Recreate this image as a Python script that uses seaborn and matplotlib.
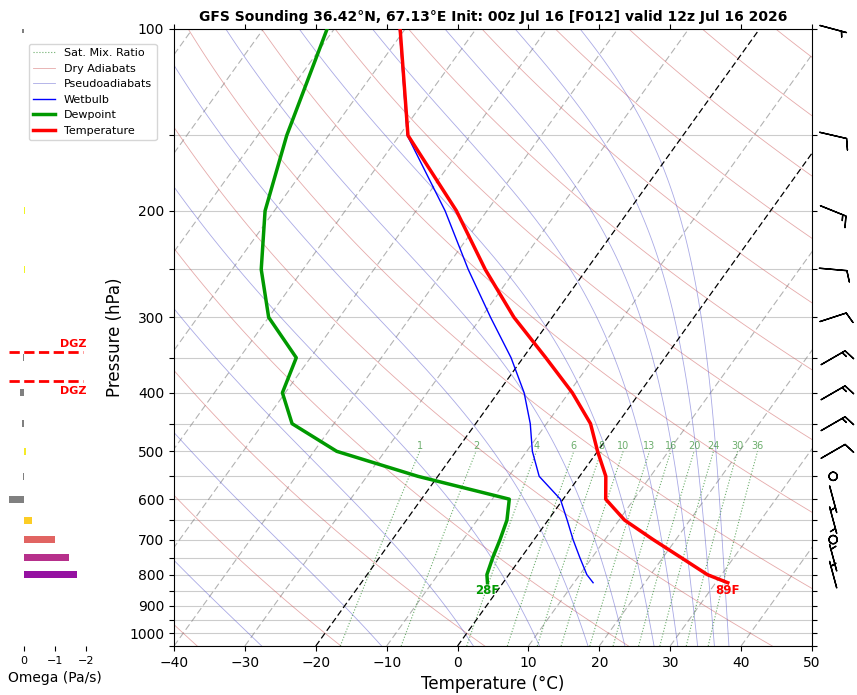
import numpy as np
import matplotlib
matplotlib.use("Agg")
import matplotlib.pyplot as plt
from matplotlib.lines import Line2D
import seaborn as sns

# Sounding profile (hPa, degC)
pres = [825, 800, 750, 700, 650, 600, 550, 500, 450, 400, 350, 300, 250, 200, 150, 100]
temp = [31.7, 28.0, 22.6, 16.8, 10.8, 6.0, 3.7, 0.0, -3.8, -9.5, -16.8, -25.4, -34.3, -44.3, -58.8, -70.7]
dewp = [-2.2, -3.1, -4.0, -4.8, -5.8, -7.6, -22.8, -36.8, -45.9, -50.4, -52.0, -60.0, -65.9, -71.3, -75.9, -81.0]
wetb = [12.7, 11.0, 8.3, 5.5, 2.7, -0.4, -5.7, -9.2, -12.3, -16.3, -21.7, -28.7, -36.7, -45.9, -58.9, -70.8]

# Vertical velocity (Pa/s)
omega_p = [800, 750, 700, 650, 600, 550, 500, 450, 400, 350, 300, 250, 200, 150, 100]
omega = [-1.71, -1.45, -1.0, -0.26, 0.48, 0.02, -0.08, 0.05, 0.13, 0.02, 0.0, -0.03, -0.03, 0.0, 0.05]

# Winds: direction (deg, from) and speed (kt)
wind_p = [800, 750, 700, 650, 600, 550, 500, 450, 400, 350, 300, 250, 200, 150, 100]
wind_dir = [345, 345, 0, 165, 165, 0, 60, 60, 60, 60, 72, 95, 112, 103, 105]
wind_spd = [5, 5, 0, 5, 5, 0, 10, 15, 15, 15, 10, 10, 15, 10, 5]

# Background line sets
mix_ratios = [1, 2, 4, 6, 8, 10, 13, 16, 20, 24, 30, 36]   # g/kg
dry_t0 = np.arange(-40, 260, 20)                           # degC at 1000 hPa
moist_thetae = np.arange(243.15, 450, 20)                  # K

title = "GFS Sounding 36.42°N, 67.13°E Init: 00z Jul 16 [F012] valid 12z Jul 16 2026"

P_BOT, P_TOP = 1050, 100
SKEW = 61.3  # degC of x shift per decade of pressure


def skew(t, p):
    return np.asarray(t, float) + SKEW * np.log10(P_BOT / np.asarray(p, float))


def sat_vp(tc):
    return 6.112 * np.exp(17.67 * tc / (tc + 243.5))


def theta_e_sat(tk, p):
    es = np.minimum(sat_vp(tk - 273.15), 0.5 * p)
    r = 0.622 * es / (p - es)
    return (tk * (1000.0 / p) ** (0.2854 * (1 - 0.28 * r))
            * np.exp((3.376 / tk - 0.00254) * r * 1000 * (1 + 0.81 * r)))


def pseudoadiabat(the, p):
    lo = np.full_like(p, 150.0)
    hi = np.full_like(p, 345.0)
    for _ in range(60):
        mid = 0.5 * (lo + hi)
        big = theta_e_sat(mid, p) > the
        hi = np.where(big, mid, hi)
        lo = np.where(big, lo, mid)
    return 0.5 * (lo + hi) - 273.15


def dewpoint_from_w(w, p):
    e = w * p / (622.0 + w)
    a = np.log(e / 6.112)
    return 243.5 * a / (17.67 - a)


fig = plt.figure(figsize=(8.57, 6.95), dpi=100)
left, bottom, width, height = 174 / 857, 1 - 646 / 695, 638 / 857, 617 / 695
ax = fig.add_axes([left, bottom, width, height])
ax.set_yscale('log')

p_bg = np.logspace(np.log10(P_BOT), np.log10(P_TOP), 120)
dry_col, moist_col, mix_col = '#cc5555', '#5555cc', '#2e8b2e'

# isotherms
for t in range(-160, 60, 10):
    if t in (0, -20):
        ax.plot(skew(np.full_like(p_bg, t), p_bg), p_bg, color='k', ls=(0, (5, 2.5)), lw=0.9, zorder=2)
    else:
        ax.plot(skew(np.full_like(p_bg, t), p_bg), p_bg, color='gray', ls=(0, (6, 3)), lw=0.8, alpha=0.6, zorder=1)

# dry adiabats
for t0 in dry_t0:
    t = (t0 + 273.15) * (p_bg / 1000.0) ** 0.2857 - 273.15
    ax.plot(skew(t, p_bg), p_bg, color=dry_col, lw=0.6, alpha=0.5, zorder=1)

# pseudoadiabats
for the in moist_thetae:
    t = pseudoadiabat(the, p_bg)
    ax.plot(skew(t, p_bg), p_bg, color=moist_col, lw=0.6, alpha=0.5, zorder=1)

# saturation mixing ratio lines
p_mr = np.logspace(np.log10(P_BOT), np.log10(500), 40)
for w in mix_ratios:
    td = dewpoint_from_w(w, p_mr)
    ax.plot(skew(td, p_mr), p_mr, color=mix_col, ls=':', lw=0.8, alpha=0.7, zorder=1)
    ax.text(skew(td[-1], 500), 500, str(w), color=mix_col, alpha=0.7, fontsize=7,
            ha='center', va='bottom')

# profiles
sns.lineplot(x=skew(wetb, pres), y=pres, sort=False, estimator=None, color='blue', lw=1, ax=ax, zorder=4)
sns.lineplot(x=skew(dewp, pres), y=pres, sort=False, estimator=None, color='#009900', lw=2.5, ax=ax, zorder=5)
sns.lineplot(x=skew(temp, pres), y=pres, sort=False, estimator=None, color='red', lw=2.5, ax=ax, zorder=5)

t_f = round(temp[0] * 9 / 5 + 32)
td_f = round(dewp[0] * 9 / 5 + 32)
ax.annotate(f"{td_f}F", (skew(dewp[0], pres[0]), pres[0]), xytext=(0, -1), textcoords='offset points',
            ha='center', va='top', color='#009900', fontsize=8.5, fontweight='bold', zorder=6)
ax.annotate(f"{t_f}F", (skew(temp[0], pres[0]), pres[0]), xytext=(0, -1), textcoords='offset points',
            ha='center', va='top', color='red', fontsize=8.5, fontweight='bold', zorder=6)

yt = np.arange(100, 1051, 50)
ax.set_yticks(yt)
ax.set_yticklabels([str(v) if v % 100 == 0 else '' for v in yt])
ax.yaxis.set_minor_locator(matplotlib.ticker.NullLocator())
ax.set_ylim(P_BOT, P_TOP)
ax.set_xlim(-40, 50)
ax.set_xticks(range(-40, 51, 10))
ax.tick_params(top=True, right=True)
ax.grid(axis='y', color='#cccccc', lw=0.8)
ax.set_axisbelow(True)
ax.set_xlabel("Temperature (°C)", fontsize=12)
ax.set_ylabel("Pressure (hPa)", fontsize=12)
ax.set_title(title, fontsize=10, fontweight='bold')

# omega panel
ax_om = fig.add_axes([8.5 / 857, bottom, 93 / 857, height])
cmap = plt.get_cmap('plasma_r')
om_colors = ['#808080' if w >= 0 else cmap(-w / 2.5) for w in omega]
ax_om.barh(omega_p, omega, height=[0.027 * p for p in omega_p], color=om_colors)
ax_om.set_yscale('log')
ax_om.set_ylim(P_BOT, P_TOP)
ax_om.set_xlim(0.5, -2.5)
ax_om.set_xticks([0, -1, -2])
ax_om.tick_params(axis='x', labelsize=8)
ax_om.set_yticks([])
ax_om.yaxis.set_minor_locator(matplotlib.ticker.NullLocator())
for s in ax_om.spines.values():
    s.set_visible(False)
ax_om.set_xlabel("Omega (Pa/s)", fontsize=10)

# dendritic growth zone (-12 to -18 C)
lp = np.log(pres)
p_dgz_lo = np.exp(np.interp(-12, temp[::-1], lp[::-1]))
p_dgz_hi = np.exp(np.interp(-18, temp[::-1], lp[::-1]))
for pz, va, dy in ((p_dgz_hi, 'bottom', 2), (p_dgz_lo, 'top', -3.5)):
    ax_om.axhline(pz, xmin=0, xmax=0.8, color='red', ls='--', lw=2)
    ax_om.annotate("DGZ", (0.84, pz), xycoords=ax_om.get_yaxis_transform(), xytext=(0, dy),
                   textcoords='offset points', ha='right', va=va,
                   color='red', fontsize=8, fontweight='bold')

# wind barbs
ax_w = fig.add_axes([812 / 857, bottom, 45 / 857, height])
ax_w.set_yscale('log')
ax_w.set_ylim(P_BOT, P_TOP)
ax_w.set_xlim(0, 1)
ax_w.axis('off')
rad = np.deg2rad(wind_dir)
u = -np.array(wind_spd) * np.sin(rad)
v = -np.array(wind_spd) * np.cos(rad)
ax_w.barbs(np.full(len(wind_p), 0.47), wind_p, u, v, pivot='middle', length=6.3, lw=1.0,
           clip_on=False)

handles = [
    Line2D([], [], color=mix_col, ls=':', lw=0.8, alpha=0.7, label='Sat. Mix. Ratio'),
    Line2D([], [], color=dry_col, lw=0.6, alpha=0.5, label='Dry Adiabats'),
    Line2D([], [], color=moist_col, lw=0.6, alpha=0.5, label='Pseudoadiabats'),
    Line2D([], [], color='blue', lw=1, label='Wetbulb'),
    Line2D([], [], color='#009900', lw=2.5, label='Dewpoint'),
    Line2D([], [], color='red', lw=2.5, label='Temperature'),
]
fig.legend(handles=handles, loc='upper left', bbox_to_anchor=(23 / 857, 1 - 38 / 695), fontsize=8)

fig.savefig("out.png", dpi=100)
